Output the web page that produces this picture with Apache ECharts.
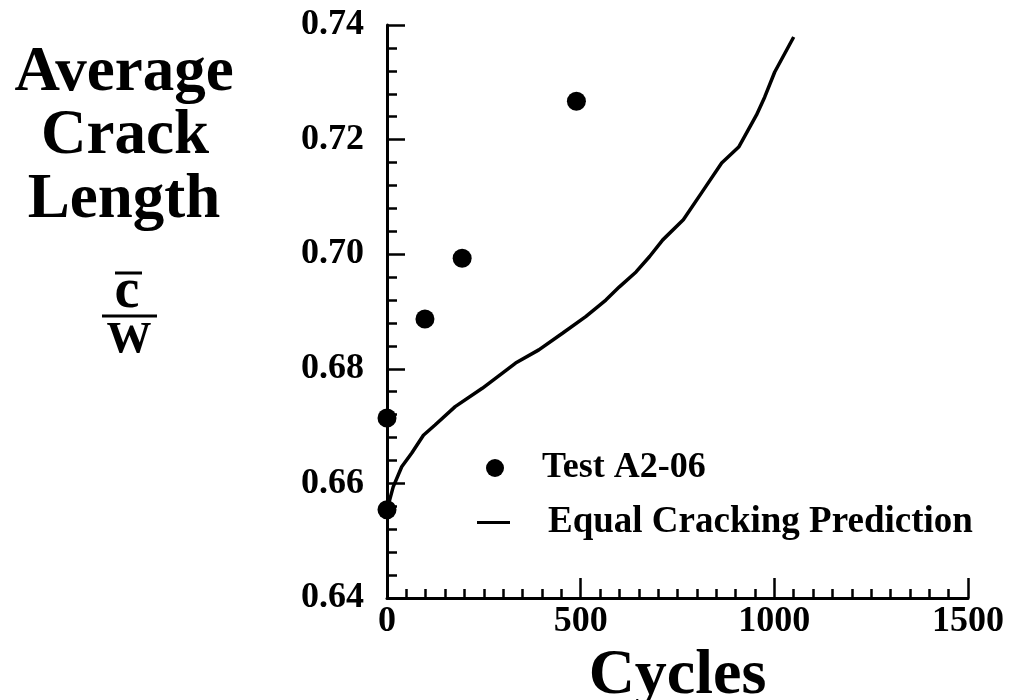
<!DOCTYPE html>
<html>
<head>
<meta charset="utf-8">
<script src="https://cdn.jsdelivr.net/npm/echarts@6/dist/echarts.min.js"></script>
<style>
html,body{margin:0;padding:0;background:#fff;}
#chart{width:1009px;height:700px;}
</style>
</head>
<body>
<div id="chart"></div>
<script>
// ---- data ----
const testCycles = [0, 0, 98, 194, 489];
const testValues = [0.6554, 0.6714, 0.6887, 0.6993, 0.7267];

const predCycles = [0, 16, 38, 64, 94, 124, 176, 246, 332, 392, 453, 513, 565, 600, 643, 678, 712, 765, 812, 864, 908, 954, 975, 1001, 1050];
const predValues = [0.6554, 0.6594, 0.6629, 0.6653, 0.6684, 0.6702, 0.6734, 0.6766, 0.6810, 0.6833, 0.6862, 0.6891, 0.6920, 0.6943, 0.6969, 0.6996, 0.7025, 0.7060, 0.7107, 0.7159, 0.7187, 0.7243, 0.7274, 0.7318, 0.7379];

const xTicks = [0, 500, 1000, 1500];
const yTicks = [0.64, 0.66, 0.68, 0.70, 0.72, 0.74];
const seriesNames = ['Test A2-06', 'Equal Cracking Prediction'];
const yTitleLines = ['Average', 'Crack', 'Length'];

const FONT = '"Liberation Serif", "Times New Roman", serif';

const chart = echarts.init(document.getElementById('chart'));
const option = {
  backgroundColor: '#ffffff',
  animation: false,
  grid: { left: 387, right: 41, top: 25, bottom: 102, outerBoundsMode: 'none', containLabel: false },
  xAxis: {
    type: 'value', min: xTicks[0], max: xTicks[xTicks.length - 1], interval: 500,
    name: 'Cycles', nameLocation: 'middle', nameGap: 23,
    nameTextStyle: { fontFamily: FONT, fontWeight: 'bold', fontSize: 64, color: '#000' },
    axisLine: { lineStyle: { color: '#000', width: 3 } },
    axisTick: { inside: true, length: 20, lineStyle: { color: '#000', width: 2.5 } },
    minorTick: { show: true, splitNumber: 10, length: 9, lineStyle: { color: '#000', width: 2.5 } },
    splitLine: { show: false },
    axisLabel: { margin: 6, fontFamily: FONT, fontWeight: 'bold', fontSize: 36, color: '#000',
      formatter: v => String(v) }
  },
  yAxis: {
    type: 'value', min: yTicks[0], max: yTicks[yTicks.length - 1], interval: 0.02,
    axisLine: { show: true, lineStyle: { color: '#000', width: 3 } },
    axisTick: { show: true, inside: true, length: 18, lineStyle: { color: '#000', width: 2.5 } },
    minorTick: { show: true, splitNumber: 5, length: 10, lineStyle: { color: '#000', width: 2.5 } },
    splitLine: { show: false },
    axisLabel: { margin: 23, fontFamily: FONT, fontWeight: 'bold', fontSize: 36, color: '#000',
      formatter: v => v.toFixed(2) }
  },
  legend: [
    {
      data: [{ name: seriesNames[0], icon: 'circle' }],
      left: 486, top: 450, padding: 0, itemWidth: 18, itemHeight: 18,
      textStyle: { fontFamily: FONT, fontWeight: 'bold', fontSize: 36, color: '#000', padding: [0, 0, 0, 33] },
      selectedMode: false
    },
    {
      data: [{ name: seriesNames[1], icon: 'rect' }],
      left: 477, top: 504, padding: 0, itemWidth: 33, itemHeight: 3,
      textStyle: { fontFamily: FONT, fontWeight: 'bold', fontSize: 37, color: '#000', padding: [0, 0, 0, 33] },
      selectedMode: false
    }
  ],
  graphic: [
    { type: 'text', x: 124, y: 42, style: { text: yTitleLines[0], fontFamily: FONT, fontWeight: 'bold', fontSize: 63, fill: '#000', align: 'center', verticalAlign: 'top' } },
    { type: 'text', x: 125, y: 105, style: { text: yTitleLines[1], fontFamily: FONT, fontWeight: 'bold', fontSize: 63, fill: '#000', align: 'center', verticalAlign: 'top' } },
    { type: 'text', x: 124, y: 169, style: { text: yTitleLines[2], fontFamily: FONT, fontWeight: 'bold', fontSize: 63, fill: '#000', align: 'center', verticalAlign: 'top' } },
    { type: 'text', x: 127, y: 265, style: { text: 'c', fontFamily: FONT, fontWeight: 'bold', fontSize: 56, fill: '#000', align: 'center', verticalAlign: 'top' } },
    { type: 'line', shape: { x1: 115, y1: 273, x2: 142, y2: 273 }, style: { stroke: '#000', lineWidth: 3 } },
    { type: 'line', shape: { x1: 102, y1: 316, x2: 157, y2: 316 }, style: { stroke: '#000', lineWidth: 3 } },
    { type: 'text', x: 129, y: 318, style: { text: 'W', fontFamily: FONT, fontWeight: 'bold', fontSize: 45, fill: '#000', align: 'center', verticalAlign: 'top' } }
  ],
  series: [
    {
      name: seriesNames[0], type: 'scatter', symbol: 'circle', symbolSize: 19,
      itemStyle: { color: '#000', opacity: 1 },
      data: testCycles.map((c, i) => [c, testValues[i]]),
      z: 3
    },
    {
      name: seriesNames[1], type: 'line', symbol: 'none', showSymbol: false, smooth: false,
      lineStyle: { color: '#000', width: 3.5 },
      itemStyle: { color: '#000' },
      data: predCycles.map((c, i) => [c, predValues[i]]),
      z: 2
    }
  ]
};
chart.setOption(option);
</script>
</body>
</html>
